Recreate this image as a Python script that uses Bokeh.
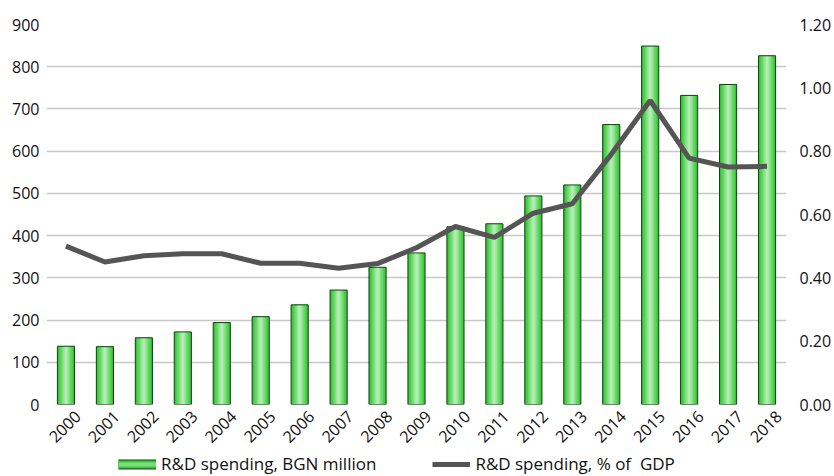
import math
from bokeh.plotting import figure
from bokeh.layouts import column
from bokeh.models import (ColumnDataSource, Range1d, LinearAxis, FixedTicker,
                          Legend, LegendItem, NumeralTickFormatter)
from bokeh.embed import file_html
from bokeh.resources import INLINE

years = [str(y) for y in range(2000, 2019)]
rd_bgn_million = [138, 137, 158, 172, 194, 208, 236, 271, 325, 359, 421, 428,
                  494, 520, 663, 849, 732, 758, 826]
rd_pct_gdp = [0.50, 0.45, 0.47, 0.476, 0.476, 0.446, 0.446, 0.43, 0.445, 0.495,
              0.562, 0.528, 0.604, 0.634, 0.79, 0.96, 0.778, 0.75, 0.752]
left_ticks = [0, 100, 200, 300, 400, 500, 600, 700, 800, 900]
right_ticks = [0.0, 0.2, 0.4, 0.6, 0.8, 1.0, 1.2]
legend_labels = ["R&D spending, BGN million", "R&D spending, % of  GDP"]

FONT = "Open Sans"
LABEL_SHIFT = 0.3  # rotated year labels sit a little right of the category centre
n = len(years)
xpos = [i + 0.5 for i in range(n)]  # category centres
src = ColumnDataSource(dict(x=xpos, year=years, v=rd_bgn_million, p=rd_pct_gdp))

p = figure(width=834, height=450, output_backend="svg", toolbar_location=None,
           x_range=Range1d(0, n), y_range=Range1d(0, 900),
           x_axis_location=None,
           min_border_left=46, min_border_right=48, min_border_top=24,
           min_border_bottom=10)
p.outline_line_color = None
p.extra_y_ranges = {"pct": Range1d(0, 1.2)}

# bars with a simulated horizontal gradient
p.vbar(x="x", top="v", width=0.44, source=src, fill_color="#33c433",
       line_color=None)
layers = [(0.36, "#4ccf4c"), (0.28, "#66d866"), (0.20, "#82e082"),
          (0.13, "#9de79d"), (0.06, "#b3edb3")]
for w, c in layers:
    p.vbar(x="x", top="v", width=w, source=src, fill_color=c, line_color=None)
p.vbar(x="x", top="v", width=0.44, source=src, fill_alpha=0,
       line_color="#1e3a1e", line_width=1)

p.line(x="x", y="p", source=src, y_range_name="pct", line_color="#555555",
       line_width=5)

# axes
p.yaxis.ticker = FixedTicker(ticks=left_ticks)
ax_r = LinearAxis(y_range_name="pct", ticker=FixedTicker(ticks=right_ticks),
                  formatter=NumeralTickFormatter(format="0.00"))
p.add_layout(ax_r, "right")

xticks = [x + LABEL_SHIFT for x in xpos]
ax_b = LinearAxis(ticker=FixedTicker(ticks=xticks),
                  major_label_overrides={t: y for t, y in zip(xticks, years)})
p.add_layout(ax_b, "below")

for ax in [p.yaxis[0], ax_r, ax_b]:
    ax.axis_line_color = None
    ax.major_tick_line_color = None
    ax.minor_tick_line_color = None
    ax.major_tick_out = 0
    ax.major_tick_in = 0
    ax.minor_tick_out = 0
    ax.major_label_text_font = FONT
    ax.major_label_text_font_size = "16px"
    ax.major_label_text_color = "#111111"
p.yaxis[0].major_label_standoff = 7
ax_r.major_label_standoff = 13
ax_b.major_label_orientation = math.pi / 4
ax_b.major_label_standoff = 9

p.xgrid.grid_line_color = None
p.ygrid.grid_line_color = "#c8c8c8"
p.ygrid.grid_line_width = 1.4

# separate strip holding the legend
lf = figure(width=834, height=26, output_backend="svg", toolbar_location=None,
            x_range=Range1d(0, 1), y_range=Range1d(0, 1),
            x_axis_location=None, y_axis_location=None,
            min_border_left=0, min_border_right=0, min_border_top=0,
            min_border_bottom=0)
lf.outline_line_color = None
lf.xgrid.grid_line_color = None
lf.ygrid.grid_line_color = None
hidden = dict(x=[0, 1], y=[-5, -5])
sw1 = lf.line(x=hidden["x"], y=hidden["y"], line_color="#1e3a1e", line_width=10)
sw2 = lf.line(x=hidden["x"], y=hidden["y"], line_color="#3cc83c", line_width=8)
sw3 = lf.line(x=hidden["x"], y=hidden["y"], line_color="#7ddd7d", line_width=4)
ln = lf.line(x=hidden["x"], y=hidden["y"], line_color="#555555", line_width=5)

legend = Legend(items=[LegendItem(label=legend_labels[0], renderers=[sw1, sw2, sw3]),
                       LegendItem(label=legend_labels[1], renderers=[ln])],
                orientation="horizontal", location=(72, 1),
                glyph_width=38, glyph_height=18, label_height=18,
                label_standoff=5, spacing=56,
                padding=0, margin=0, border_line_color=None,
                background_fill_alpha=0,
                label_text_font=FONT, label_text_font_size="17px",
                label_text_color="#111111")
lf.add_layout(legend, "center")

layout = column(p, lf, spacing=0)
open("out.html", "w").write(file_html(layout, INLINE))
